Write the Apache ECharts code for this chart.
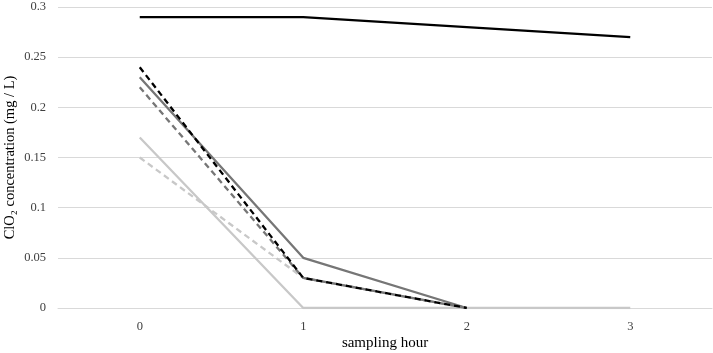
<!DOCTYPE html>
<html>
<head>
<meta charset="utf-8">
<script src="https://cdn.jsdelivr.net/npm/echarts@6/dist/echarts.min.js"></script>
<style>
  html, body { margin: 0; padding: 0; background: #fff; }
  #chart { width: 713px; height: 353px; }
</style>
</head>
<body>
<div id="chart"></div>
<script>
const hours = ['0', '1', '2', '3'];
const blackSolid = [0.29, 0.29, 0.28, 0.27];
const blackDashed = [0.24, 0.03, 0];
const darkSolid = [0.23, 0.05, 0];
const darkDashed = [0.22, 0.03, 0];
const lightSolid = [0.17, 0, 0, 0];
const lightDashed = [0.15, 0.03, 0];

const font = '"Liberation Serif", "DejaVu Serif", serif';

function line(name, data, color, type, z) {
  return {
    name: name,
    type: 'line',
    data: data,
    symbol: 'none',
    z: z,
    lineStyle: { color: color, width: 2.3, type: type },
    emphasis: { disabled: true }
  };
}

const chart = echarts.init(document.getElementById('chart'));
chart.setOption({
  animation: false,
  backgroundColor: '#fff',
  grid: { left: 58, right: 1, top: 7, bottom: 45, outerBoundsMode: 'none' },
  xAxis: {
    type: 'category',
    data: hours,
    boundaryGap: true,
    name: 'sampling hour',
    nameLocation: 'middle',
    nameGap: 28,
    nameMoveOverlap: false,
    nameTextStyle: { fontFamily: font, fontSize: 15, color: '#000' },
    axisLine: { show: true, lineStyle: { color: '#d9d9d9' } },
    axisTick: { show: false },
    axisLabel: { fontFamily: font, fontSize: 12.5, color: '#404040', margin: 12 }
  },
  yAxis: {
    type: 'value',
    min: 0,
    max: 0.3,
    interval: 0.05,
    name: 'ClO\u2082 concentration (mg / L)',
    nameLocation: 'middle',
    nameGap: 40,
    nameMoveOverlap: false,
    nameTextStyle: { fontFamily: font, fontSize: 14.5, color: '#000' },
    axisLine: { show: false },
    axisTick: { show: false },
    splitLine: { lineStyle: { color: '#d9d9d9' } },
    axisLabel: {
      fontFamily: font, fontSize: 12.5, color: '#404040', margin: 12,
      formatter: v => String(+v.toFixed(2))
    }
  },
  series: [
    line('lightSolid', lightSolid, '#c8c8c8', 'solid', 2),
    line('lightDashed', lightDashed, '#c8c8c8', [6, 4], 3),
    line('darkSolid', darkSolid, '#767676', 'solid', 4),
    line('darkDashed', darkDashed, '#767676', [6, 4], 5),
    line('blackDashed', blackDashed, '#000', [6, 4], 6),
    line('blackSolid', blackSolid, '#000', 'solid', 7)
  ]
});
</script>
</body>
</html>
